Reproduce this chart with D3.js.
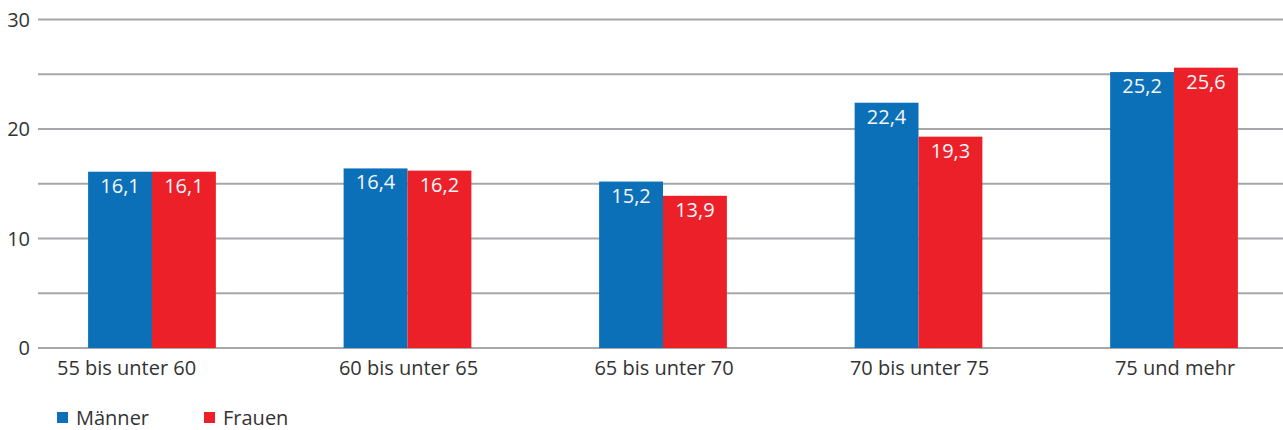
<!DOCTYPE html>
<html>
<head>
<meta charset="utf-8">
<script src="https://cdn.jsdelivr.net/npm/d3@7"></script>
<style>
  body { margin: 0; background: #fff; }
  svg { display: block; font-family: "Open Sans", "Noto Sans", sans-serif; }
</style>
</head>
<body>
<svg id="chart"></svg>
<script>
const categories = ["55 bis unter 60", "60 bis unter 65", "65 bis unter 70", "70 bis unter 75", "75 und mehr"];
const series = ["Männer", "Frauen"];
const maenner = [16.1, 16.4, 15.2, 22.4, 25.2];
const frauen = [16.1, 16.2, 13.9, 19.3, 25.6];
const yTicks = [0, 10, 20, 30];
const gridTicks = [0, 5, 10, 15, 20, 25, 30];

const width = 1283, height = 430;
const colors = { "Männer": "#0b70b8", "Frauen": "#ec2029" };
const fmt = v => v.toFixed(1).replace(".", ",");

const svg = d3.select("#chart").attr("width", width).attr("height", height);

const y = d3.scaleLinear().domain([0, 30]).range([348, 19.5]);
const x = d3.scaleBand().domain(categories).range([37, 1289])
  .paddingInner(0.5).paddingOuter(0.2);
const xs = d3.scaleBand().domain(series).range([0, x.bandwidth()]);

// grid
svg.append("g").selectAll("line")
  .data(gridTicks).enter().append("line")
  .attr("x1", 38).attr("x2", width)
  .attr("y1", d => y(d)).attr("y2", d => y(d))
  .attr("stroke", "#a7a6ab").attr("stroke-width", 2);

// y labels
svg.append("g").selectAll("text")
  .data(yTicks).enter().append("text")
  .attr("x", 30).attr("y", d => y(d) + 7)
  .attr("text-anchor", "end")
  .attr("font-size", 20).attr("fill", "#333")
  .text(d => d);

const rows = categories.map((c, i) => ({ cat: c, values: [
  { s: "Männer", v: maenner[i] }, { s: "Frauen", v: frauen[i] }] }));

const grp = svg.append("g").selectAll("g")
  .data(rows).enter().append("g")
  .attr("transform", d => `translate(${x(d.cat)},0)`);

grp.selectAll("rect")
  .data(d => d.values).enter().append("rect")
  .attr("x", d => xs(d.s))
  .attr("width", xs.bandwidth())
  .attr("y", d => y(d.v))
  .attr("height", d => y(0) - y(d.v))
  .attr("fill", d => colors[d.s]);

grp.selectAll("text.val")
  .data(d => d.values).enter().append("text")
  .attr("class", "val")
  .attr("x", d => xs(d.s) + xs.bandwidth() / 2)
  .attr("y", d => y(d.v) + 21)
  .attr("text-anchor", "middle")
  .attr("font-size", 20).attr("fill", "#f4f7fb")
  .text(d => fmt(d.v));

// category labels (first one sits flush at the left, as in the source)
svg.append("g").selectAll("text")
  .data(categories).enter().append("text")
  .attr("y", 375)
  .attr("text-anchor", (d, i) => i === 0 ? "start" : "middle")
  .attr("x", (d, i) => i === 0 ? 57 : x(d) + x.bandwidth() / 2 + 1)
  .attr("font-size", 20).attr("fill", "#333")
  .text(d => d);

// legend
const leg = svg.append("g").attr("transform", "translate(57,412)")
  .selectAll("g").data(series).enter().append("g")
  .attr("transform", (d, i) => `translate(${i * 147},0)`);
leg.append("rect").attr("width", 11).attr("height", 11)
  .attr("fill", d => colors[d]);
leg.append("text").attr("x", 19).attr("y", 13)
  .attr("font-size", 20).attr("fill", "#333")
  .text(d => d);
</script>
</body>
</html>
